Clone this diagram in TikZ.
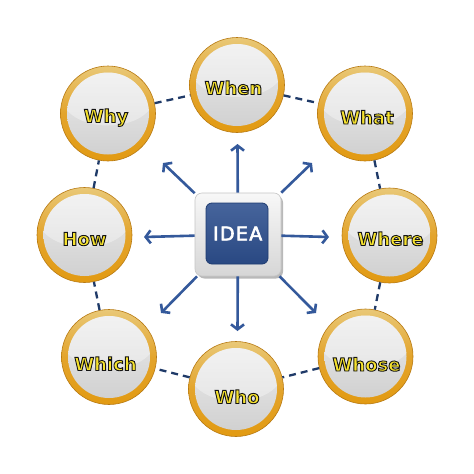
\documentclass[tikz,border=0pt]{standalone}
\usepackage{fontspec}
\usetikzlibrary{arrows.meta,shadings}
\newfontfamily\qfont{DejaVu Sans}
\definecolor{goldL}{HTML}{E9C877}
\definecolor{goldM}{HTML}{E3A42C}
\definecolor{goldD}{HTML}{E29A12}
\definecolor{goldE}{HTML}{B87A12}
\definecolor{txtY}{HTML}{F6E22E}
\definecolor{arrB}{HTML}{34599B}
\definecolor{dashB}{HTML}{1F3A68}
\definecolor{boxB}{HTML}{2D4F8E}
\definecolor{boxBD}{HTML}{1E3B70}
\tikzset{
  qball/.style={circle, minimum size=95pt, inner sep=0pt, draw=goldE, line width=0.6pt,
    top color=goldL, bottom color=goldD, middle color=goldM,
    path picture={
      \shade[top color=gray!14, bottom color=gray!38] (path picture bounding box.center) circle (41pt);
      \begin{scope}
        \clip (path picture bounding box.center) circle (41pt);
        \fill[white, opacity=0.35] ([yshift=16pt]path picture bounding box.center) ellipse (46pt and 28pt);
      \end{scope}
    }},
  lbl/.style={anchor=base, yshift=-6.5pt, inner sep=0pt,
    font=\qfont\bfseries\fontsize{18}{18}\selectfont},
  dashline/.style={draw=dashB, line width=2.3pt, dash pattern=on 7pt off 5pt},
  ray/.style={draw=arrB, line width=2.6pt, -{Straight Barb[length=5pt,width=13pt]}},
}
\newcommand{\qtxt}[1]{\textcolor{txtY}{\special{pdf:code q 0.08 0.08 0.08 RG 0.9 w 2 Tr}#1\special{pdf:code Q}}}
\newcommand{\qbold}[1]{\special{pdf:code q 1 1 1 RG 0.6 w 2 Tr}#1\special{pdf:code Q}}
\begin{document}
\begin{tikzpicture}[x=1pt,y=-1pt]
\useasboundingbox (0,0) rectangle (474,474);
\fill[white] (0,0) rectangle (474,474);

% circles
\node[qball] (why)   at (108,113.5) {};
\node[qball] (when)  at (237,85) {};
\node[qball] (what)  at (365,113.5) {};
\node[qball] (how)   at (84.5,235) {};
\node[qball] (where) at (389.5,235.5) {};
\node[qball] (which) at (109,357) {};
\node[qball] (who)   at (236,389) {};
\node[qball] (whose) at (365.5,356.5) {};

% dashed ring
\draw[dashline] (why) -- (when);
\draw[dashline] (when) -- (what);
\draw[dashline] (what) -- (where);
\draw[dashline] (where) -- (whose);
\draw[dashline] (whose) -- (who);
\draw[dashline] (who) -- (which);
\draw[dashline] (which) -- (how);
\draw[dashline] (how) -- (why);

% labels
\node[lbl] (twhy)   at (106,116) {\qtxt{Why}};
\node[lbl] (twhen)  at (233.5,88) {\qtxt{When}};
\node[lbl] (twhat)  at (367,117.5) {\qtxt{What}};
\node[lbl] (thow)   at (84.5,239) {\qtxt{How}};
\node[lbl] (twhere) at (390.5,239) {\qtxt{Where}};
\node[lbl] (twhich) at (105.5,364) {\qtxt{Which}};
\node[lbl] (twho)   at (237,397) {\qtxt{Who}};
\node[lbl] (twhose) at (366.5,364.5) {\qtxt{Whose}};

% center box
\fill[gray!55, rounded corners=7pt] (197.5,195.5) rectangle (283,278.5);
\node[draw=gray!45, line width=0.6pt, rounded corners=7pt, minimum width=86pt, minimum height=83pt,
  inner sep=0pt, top color=gray!6, bottom color=gray!32] (idea) at (238,234.5) {};
\node[draw=boxBD, line width=0.8pt, rounded corners=6pt, minimum width=62pt, minimum height=61pt,
  inner sep=0pt, top color=boxB!88!white, bottom color=boxB!92!black, text=white,
  font=\qfont\fontsize{19}{19}\selectfont\addfontfeatures{LetterSpace=7}] (ideain) at (237,233.5) {\hspace*{1.3pt}\qbold{IDEA}};

% arrows
\coordinate (tN)  at (237.5,144);
\coordinate (tS)  at (237.5,331);
\coordinate (tW)  at (144,237);
\coordinate (tE)  at (329,237);
\coordinate (tNW) at (163,163);
\coordinate (tNE) at (312,163);
\coordinate (tSW) at (161,313);
\coordinate (tSE) at (316,313);
\foreach \t in {tN,tS,tW,tE,tNW,tNE,tSW,tSE}{
  \draw[ray] (idea) -- (\t);
}
\end{tikzpicture}
\end{document}
